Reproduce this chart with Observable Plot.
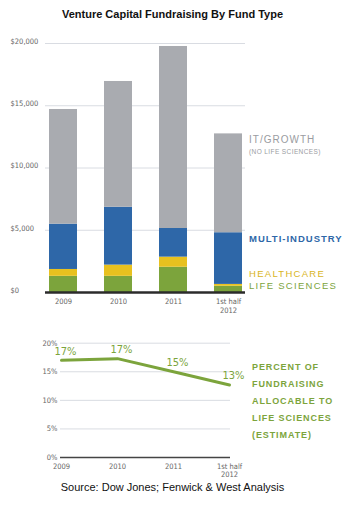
<!DOCTYPE html>
<html>
<head>
<meta charset="utf-8">
<script src="https://cdn.jsdelivr.net/npm/d3@7"></script>
<script src="https://cdn.jsdelivr.net/npm/@observablehq/plot@0.6"></script>
<style>
  html, body { margin: 0; padding: 0; background: #fff; }
  #wrap { position: relative; width: 350px; height: 507px; overflow: hidden; font-family: "Liberation Sans", Arial, sans-serif; }
  .abs { position: absolute; white-space: nowrap; line-height: 1; }
  .lbl { transform: translateY(-50%); }
</style>
</head>
<body>
<div id="wrap"></div>
<script>
// ---- data ----
const years = ["2009", "2010", "2011", "1st half 2012"];
const seriesNames = ["Life Sciences", "Healthcare", "Multi-Industry", "IT/Growth"];
const lifeSciences = [1300, 1300, 2030, 500];
const healthcare = [550, 900, 810, 150];
const multiIndustry = [3640, 4650, 2300, 4150];
const itGrowth = [9210, 10100, 14620, 7940];
const pctLifeSci = [17, 17.3, 15, 12.7];
const pctLabels = ["17%", "17%", "15%", "13%"];
const dollarTicks = [0, 5000, 10000, 15000, 20000];
const pctTicks = [0, 5, 10, 15, 20];
const seriesColors = ["#7ca43c", "#e8c11f", "#2e67a8", "#a9abb0"];

const seriesValues = [lifeSciences, healthcare, multiIndustry, itGrowth];
const barData = [];
seriesNames.forEach((s, i) => years.forEach((y, j) => barData.push({year: y, series: s, value: seriesValues[i][j]})));
const lineData = years.map((y, i) => ({year: y, pct: pctLifeSci[i], label: pctLabels[i]}));

const fmtYear = d => d === "1st half 2012" ? "1st half\n2012" : d;
const green = "#7ca43c";

const wrap = document.getElementById("wrap");

function add(html, style, cls) {
  const d = document.createElement("div");
  d.className = "abs " + (cls || "");
  d.innerHTML = html;
  Object.assign(d.style, style);
  wrap.appendChild(d);
  return d;
}

// title
add("Venture Capital Fundraising By Fund Type", {left: "0", width: "345px", top: "9px", textAlign: "center", fontWeight: "bold", fontSize: "11px", color: "#111"});

// ---- bar chart ----
const bar = Plot.plot({
  width: 350, height: 297,
  marginTop: 18, marginBottom: 30, marginLeft: 45, marginRight: 105,
  x: {domain: years, paddingInner: 0.5, paddingOuter: 0.05, axis: null},
  y: {domain: [0, 20000], axis: null},
  color: {domain: seriesNames, range: seriesColors},
  style: {fontFamily: "'DejaVu Sans Condensed', 'Liberation Sans', sans-serif", fontSize: "7.5px", color: "#666", background: "transparent"},
  marks: [
    Plot.gridY(dollarTicks.filter(d => d > 0), {stroke: "#d9dce2", strokeOpacity: 1}),
    Plot.axisY(dollarTicks, {label: null, tickSize: 0, tickPadding: 0, textAnchor: "start", dx: -35, dy: -2, tickFormat: d => "$" + d3.format(",")(d)}),
    Plot.barY(barData, {x: "year", y: "value", fill: "series"}),
    Plot.ruleY([0], {stroke: "#2b2b2b", strokeWidth: 2.5}),
    Plot.axisX(years, {label: null, tickSize: 0, tickPadding: 5, tickFormat: fmtYear, lineHeight: 1.2})
  ]
});
bar.style.position = "absolute";
bar.style.left = "0px";
bar.style.top = "25px";
wrap.appendChild(bar);

// legend labels
add("IT/GROWTH", {left: "249px", top: "140px", fontSize: "10px", letterSpacing: "1px", color: "#9a9ca1"}, "lbl");
add("(NO LIFE SCIENCES)", {left: "249px", top: "152px", fontSize: "6.5px", letterSpacing: "0.4px", color: "#9a9ca1"}, "lbl");
add("MULTI-INDUSTRY", {left: "249px", top: "239px", fontSize: "9.5px", fontWeight: "bold", letterSpacing: "1px", color: "#2e67a8"}, "lbl");
add("HEALTHCARE", {left: "249px", top: "274px", fontSize: "9.5px", letterSpacing: "1.3px", color: "#d9b524"}, "lbl");
add("LIFE SCIENCES", {left: "249px", top: "286px", fontSize: "9.5px", letterSpacing: "1.3px", color: green}, "lbl");

// ---- line chart ----
const line = Plot.plot({
  width: 350, height: 152,
  marginTop: 12.7, marginBottom: 25, marginLeft: 60, marginRight: 120,
  x: {type: "point", domain: years, padding: 0, axis: null},
  y: {domain: [0, 20], axis: null},
  style: {fontFamily: "'DejaVu Sans Condensed', 'Liberation Sans', sans-serif", fontSize: "7.5px", color: "#666", background: "transparent"},
  marks: [
    Plot.gridY(pctTicks.filter(d => d > 0), {stroke: "#d9dce2", strokeOpacity: 1}),
    Plot.axisY(pctTicks, {label: null, tickSize: 0, tickPadding: 3, tickFormat: d => d + "%"}),
    Plot.ruleY([0], {stroke: "#444", strokeWidth: 1.5}),
    Plot.line(lineData, {x: "year", y: "pct", stroke: green, strokeWidth: 3}),
    Plot.text(lineData, {x: "year", y: "pct", text: "label", dy: -9, dx: 4, fill: green, fontSize: 11}),
    Plot.axisX(years, {label: null, tickSize: 0, tickPadding: 5, tickFormat: fmtYear, lineHeight: 1.15})
  ]
});
line.style.position = "absolute";
line.style.left = "0px";
line.style.top = "330px";
wrap.appendChild(line);

const pctText = ["PERCENT OF", "FUNDRAISING", "ALLOCABLE TO", "LIFE SCIENCES", "(ESTIMATE)"];
pctText.forEach((t, i) => add(t, {left: "252px", top: (367 + i * 17) + "px", fontSize: "9px", fontWeight: "bold", letterSpacing: "0.9px", color: green}, "lbl"));

// source
add("Source: Dow Jones; Fenwick &amp; West Analysis", {left: "0", width: "345px", top: "482px", textAlign: "center", fontSize: "11px", color: "#111"});
</script>
</body>
</html>
